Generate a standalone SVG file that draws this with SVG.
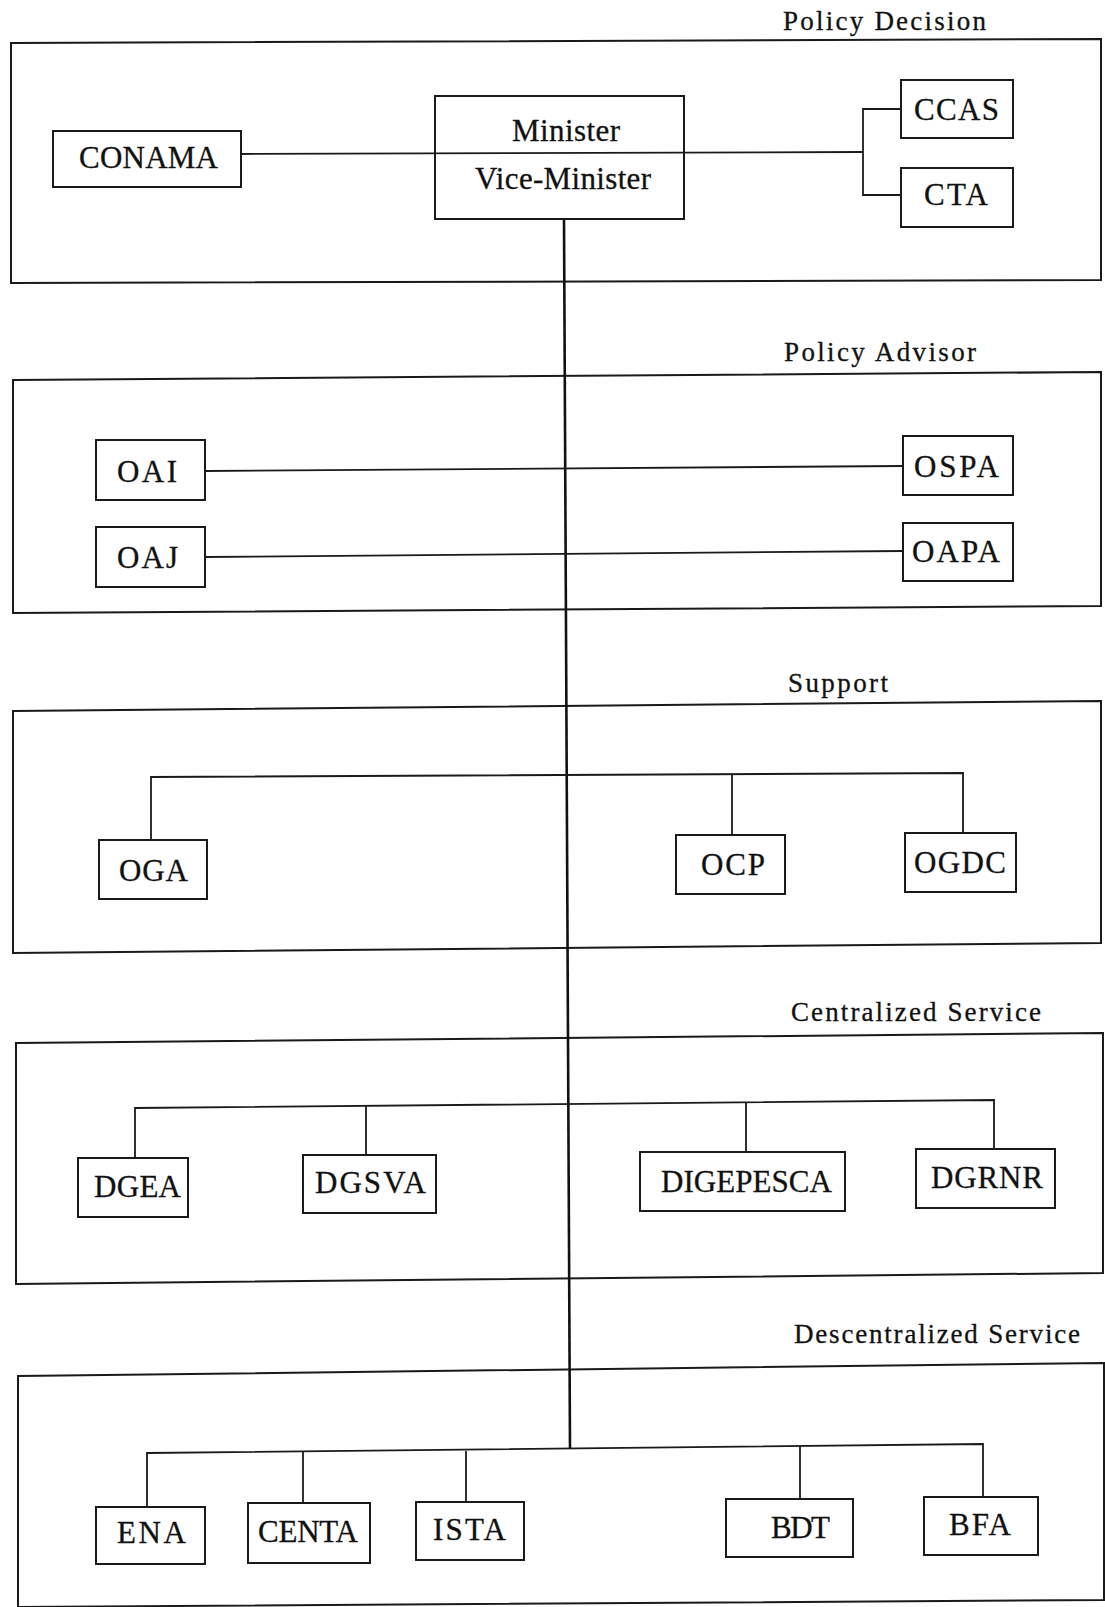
<svg xmlns="http://www.w3.org/2000/svg" width="1105" height="1607" viewBox="0 0 1105 1607">
<style>
.bg{fill:#ffffff}
.frame{fill:none;stroke:#1a1a1a;stroke-width:2}
.box{fill:#ffffff;stroke:#1a1a1a;stroke-width:2}
.ln{fill:none;stroke:#1a1a1a;stroke-width:1.8}
.trunk{fill:none;stroke:#111;stroke-width:2.6}
.hd{font-family:"Liberation Serif","Times New Roman",serif;font-size:27px;fill:#111;stroke:#111;stroke-width:0.3}
.lb{font-family:"Liberation Serif","Times New Roman",serif;font-size:31px;fill:#111;stroke:#111;stroke-width:0.3}
</style>
<rect class="bg" x="0" y="0" width="1105" height="1607"/>

<g id="layers">
  <g id="policy-decision">
    <path class="frame" d="M11,43 L1101,39 L1101,280 L11,283 Z"/>
    <text class="hd" x="783" y="30" textLength="203" lengthAdjust="spacing">Policy Decision</text>
  </g>
  <g id="policy-advisor">
    <path class="frame" d="M13,380 L1101,372 L1101,606 L13,613 Z"/>
    <text class="hd" x="784" y="361" textLength="192" lengthAdjust="spacing">Policy Advisor</text>
  </g>
  <g id="support">
    <path class="frame" d="M13,711 L1101,701 L1101,943 L13,953 Z"/>
    <text class="hd" x="788" y="692" textLength="100" lengthAdjust="spacing">Support</text>
  </g>
  <g id="centralized-service">
    <path class="frame" d="M16,1043 L1103,1033 L1103,1273 L16,1284 Z"/>
    <text class="hd" x="791" y="1021" textLength="250" lengthAdjust="spacing">Centralized Service</text>
  </g>
  <g id="descentralized-service">
    <path class="frame" d="M18,1376 L1104,1363 L1104,1600 L18,1607 Z"/>
    <text class="hd" x="794" y="1343" textLength="286" lengthAdjust="spacing">Descentralized Service</text>
  </g>
</g>

<g id="connectors">
  <line class="trunk" x1="564" y1="219" x2="570" y2="1448"/>
  <line class="ln" x1="241" y1="154" x2="863" y2="152"/>
  <polyline class="ln" points="901,109 863,109 863,195 901,195"/>
  <line class="ln" x1="205" y1="471" x2="903" y2="466"/>
  <line class="ln" x1="205" y1="557" x2="903" y2="551"/>
  <polyline class="ln" points="151,840 151,777 963,773 963,833"/>
  <line class="ln" x1="732" y1="774" x2="732" y2="835"/>
  <polyline class="ln" points="135,1158 135,1108 994,1100 994,1149"/>
  <line class="ln" x1="366" y1="1106" x2="366" y2="1155"/>
  <line class="ln" x1="746" y1="1102" x2="746" y2="1152"/>
  <polyline class="ln" points="147,1507 147,1453 983,1444 983,1497"/>
  <line class="ln" x1="303" y1="1452" x2="303" y2="1503"/>
  <line class="ln" x1="466" y1="1451" x2="466" y2="1502"/>
  <line class="ln" x1="800" y1="1446" x2="800" y2="1499"/>
</g>

<g id="nodes">
  <g id="minister">
    <rect class="box" x="435" y="96" width="249" height="123" style="fill:none"/>
    <text class="lb" x="512" y="141" textLength="108" lengthAdjust="spacing">Minister</text>
    <text class="lb" x="475" y="189" textLength="176" lengthAdjust="spacing">Vice-Minister</text>
  </g>
  <g id="conama">
    <rect class="box" x="53" y="131" width="188" height="56"/>
    <text class="lb" x="79" y="168" textLength="139" lengthAdjust="spacing">CONAMA</text>
  </g>
  <g id="ccas">
    <rect class="box" x="901" y="80" width="112" height="58"/>
    <text class="lb" x="914" y="120" textLength="85" lengthAdjust="spacing">CCAS</text>
  </g>
  <g id="cta">
    <rect class="box" x="901" y="168" width="112" height="59"/>
    <text class="lb" x="924" y="205" textLength="64" lengthAdjust="spacing">CTA</text>
  </g>
  <g id="oai">
    <rect class="box" x="96" y="440" width="109" height="60"/>
    <text class="lb" x="117" y="482" textLength="60" lengthAdjust="spacing">OAI</text>
  </g>
  <g id="oaj">
    <rect class="box" x="96" y="527" width="109" height="60"/>
    <text class="lb" x="117" y="568" textLength="61" lengthAdjust="spacing">OAJ</text>
  </g>
  <g id="ospa">
    <rect class="box" x="903" y="436" width="110" height="59"/>
    <text class="lb" x="914" y="477" textLength="85" lengthAdjust="spacing">OSPA</text>
  </g>
  <g id="oapa">
    <rect class="box" x="903" y="523" width="110" height="58"/>
    <text class="lb" x="912" y="562" textLength="88" lengthAdjust="spacing">OAPA</text>
  </g>
  <g id="oga">
    <rect class="box" x="99" y="840" width="108" height="59"/>
    <text class="lb" x="119" y="881" textLength="69" lengthAdjust="spacing">OGA</text>
  </g>
  <g id="ocp">
    <rect class="box" x="676" y="835" width="109" height="59"/>
    <text class="lb" x="701" y="875" textLength="64" lengthAdjust="spacing">OCP</text>
  </g>
  <g id="ogdc">
    <rect class="box" x="905" y="833" width="111" height="59"/>
    <text class="lb" x="914" y="873" textLength="92" lengthAdjust="spacing">OGDC</text>
  </g>
  <g id="dgea">
    <rect class="box" x="78" y="1158" width="110" height="59"/>
    <text class="lb" x="94" y="1197" textLength="87" lengthAdjust="spacing">DGEA</text>
  </g>
  <g id="dgsva">
    <rect class="box" x="303" y="1155" width="133" height="58"/>
    <text class="lb" x="315" y="1193" textLength="111" lengthAdjust="spacing">DGSVA</text>
  </g>
  <g id="digepesca">
    <rect class="box" x="640" y="1152" width="205" height="59"/>
    <text class="lb" x="661" y="1192" textLength="171" lengthAdjust="spacing">DIGEPESCA</text>
  </g>
  <g id="dgrnr">
    <rect class="box" x="916" y="1149" width="139" height="59"/>
    <text class="lb" x="931" y="1188" textLength="112" lengthAdjust="spacing">DGRNR</text>
  </g>
  <g id="ena">
    <rect class="box" x="96" y="1507" width="109" height="57"/>
    <text class="lb" x="117" y="1543" textLength="69" lengthAdjust="spacing">ENA</text>
  </g>
  <g id="centa">
    <rect class="box" x="248" y="1503" width="122" height="60"/>
    <text class="lb" x="258" y="1542" textLength="100" lengthAdjust="spacing">CENTA</text>
  </g>
  <g id="ista">
    <rect class="box" x="416" y="1502" width="108" height="58"/>
    <text class="lb" x="433" y="1540" textLength="73" lengthAdjust="spacing">ISTA</text>
  </g>
  <g id="bdt">
    <rect class="box" x="726" y="1499" width="127" height="58"/>
    <text class="lb" x="771" y="1538" textLength="59" lengthAdjust="spacing">BDT</text>
  </g>
  <g id="bfa">
    <rect class="box" x="924" y="1497" width="114" height="58"/>
    <text class="lb" x="949" y="1535" textLength="62" lengthAdjust="spacing">BFA</text>
  </g>
</g>
</svg>
